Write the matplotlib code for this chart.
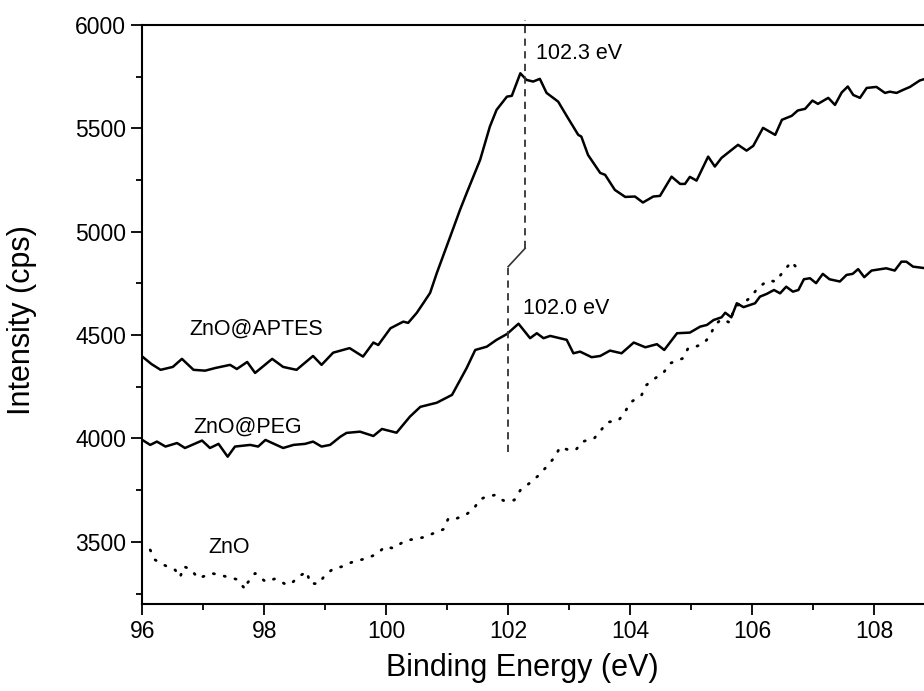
import matplotlib
matplotlib.use('Agg')
import matplotlib.pyplot as plt
from matplotlib.ticker import MultipleLocator

plt.rcParams['font.family'] = ['Liberation Sans', 'DejaVu Sans']

# ZnO@APTES trace
aptes_x = [96.0, 96.15, 96.3, 96.5, 96.65, 96.84, 97.03, 97.2, 97.44, 97.55, 97.72, 97.85,
           98.13, 98.31, 98.53, 98.8, 98.94, 99.13, 99.4, 99.62, 99.79, 99.87, 100.07, 100.28,
           100.36, 100.5, 100.61, 100.72, 100.83, 101.05, 101.21, 101.32, 101.54, 101.7, 101.81,
           101.98, 102.06, 102.2, 102.3, 102.41, 102.52, 102.63, 102.82, 102.98, 103.15, 103.2,
           103.31, 103.51, 103.59, 103.75, 103.92, 104.08, 104.21, 104.38, 104.49, 104.68, 104.82,
           104.9, 104.98, 105.09, 105.28, 105.39, 105.5, 105.77, 105.91, 106.02, 106.18, 106.38,
           106.49, 106.65, 106.75, 106.87, 106.99, 107.08, 107.25, 107.36, 107.47, 107.57, 107.66,
           107.77, 107.88, 108.04, 108.18, 108.26, 108.37, 108.48, 108.59, 108.75, 108.85]
aptes_y = [4396, 4360, 4332, 4346, 4385, 4332, 4328, 4341, 4356, 4336, 4370, 4317,
           4385, 4346, 4332, 4399, 4356, 4415, 4437, 4396, 4464, 4452, 4533, 4565,
           4559, 4607, 4655, 4704, 4800, 4976, 5105, 5187, 5347, 5508, 5589,
           5653, 5657, 5766, 5734, 5726, 5739, 5671, 5629, 5550, 5468, 5460,
           5371, 5284, 5275, 5202, 5168, 5170, 5141, 5170, 5173, 5266, 5231,
           5231, 5265, 5247, 5363, 5315, 5357, 5420, 5392, 5415, 5502, 5468,
           5541, 5560, 5586, 5594, 5634, 5618, 5647, 5613, 5673, 5702, 5661,
           5647, 5695, 5700, 5671, 5677, 5671, 5686, 5700, 5731, 5740]

# ZnO@PEG trace
peg_x = [96.0, 96.13, 96.24, 96.38, 96.57, 96.7, 96.98, 97.11, 97.25, 97.4, 97.52, 97.77,
         97.9, 98.02, 98.31, 98.48, 98.67, 98.8, 98.94, 99.08, 99.25, 99.35, 99.57, 99.79,
         99.93, 100.17, 100.39, 100.56, 100.83, 101.08, 101.32, 101.46, 101.65, 101.81, 101.98,
         102.17, 102.36, 102.47, 102.58, 102.69, 102.96, 103.07, 103.18, 103.37, 103.51, 103.67,
         103.86, 104.06, 104.25, 104.44, 104.56, 104.77, 104.98, 105.15, 105.26, 105.37, 105.5,
         105.56, 105.66, 105.75, 105.86, 106.05, 106.13, 106.24, 106.36, 106.46, 106.56, 106.67,
         106.76, 106.85, 106.95, 107.05, 107.16, 107.27, 107.44, 107.55, 107.65, 107.74, 107.84,
         107.96, 108.2, 108.34, 108.45, 108.53, 108.64, 108.85]
peg_y = [3993, 3969, 3985, 3961, 3978, 3954, 3990, 3954, 3974, 3912, 3961, 3969,
         3961, 3993, 3954, 3969, 3974, 3985, 3961, 3969, 4009, 4027, 4033, 4012,
         4046, 4028, 4106, 4153, 4173, 4211, 4341, 4428, 4444, 4477, 4505,
         4555, 4485, 4509, 4485, 4496, 4477, 4412, 4420, 4393, 4399, 4425,
         4412, 4464, 4441, 4456, 4428, 4509, 4512, 4541, 4549, 4573, 4586,
         4608, 4586, 4654, 4635, 4654, 4686, 4699, 4718, 4702, 4734, 4710,
         4718, 4770, 4775, 4751, 4796, 4770, 4759, 4791, 4796, 4819, 4780,
         4812, 4823, 4812, 4855, 4855, 4831, 4823]

# bare ZnO trace (dotted)
zno_x = [96.13, 96.21, 96.35, 96.54, 96.62, 96.68, 96.79, 96.92, 97.14, 97.28, 97.41, 97.55,
         97.69, 97.72, 97.85, 98.02, 98.18, 98.37, 98.45, 98.56, 98.7, 98.75, 98.89, 99.0,
         99.14, 99.27, 99.38, 99.52, 99.68, 99.85, 99.98, 100.12, 100.31, 100.45, 100.61, 100.78,
         100.94, 101.02, 101.16, 101.3, 101.43, 101.54, 101.65, 101.79, 101.92, 102.1, 102.2,
         102.36, 102.51, 102.64, 102.77, 102.85, 102.99, 103.11, 103.22, 103.41, 103.63, 103.81,
         103.92, 104.0, 104.19, 104.27, 104.41, 104.55, 104.66, 104.87, 104.95, 105.04, 105.2,
         105.31, 105.39, 105.5, 105.64, 105.69, 105.8, 105.91, 105.99, 106.1, 106.27, 106.39,
         106.51, 106.65, 106.75]
zno_y = [3461, 3413, 3389, 3364, 3329, 3381, 3368, 3324, 3348, 3340, 3329, 3319,
         3271, 3300, 3348, 3308, 3322, 3292, 3300, 3332, 3356, 3300, 3297, 3340,
         3372, 3380, 3396, 3409, 3420, 3442, 3477, 3469, 3506, 3513, 3522, 3542,
         3561, 3614, 3614, 3630, 3658, 3706, 3719, 3727, 3700, 3702, 3750,
         3786, 3824, 3867, 3912, 3958, 3945, 3945, 3985, 4000, 4079, 4087,
         4130, 4173, 4211, 4259, 4291, 4319, 4364, 4388, 4436, 4441, 4457,
         4496, 4549, 4577, 4560, 4613, 4657, 4667, 4686, 4731, 4764, 4759,
         4807, 4855, 4818]

peak_peg = 102.0
peak_aptes = 102.28

fig = plt.figure(figsize=(9.24, 6.91), dpi=100)
ax = fig.add_axes([0.154, 0.126, 0.846, 0.838])

ax.plot(aptes_x, aptes_y, color='black', lw=1.8)
ax.plot(peg_x, peg_y, color='black', lw=1.8)
ax.plot(zno_x, zno_y, color='black', lw=2.0, linestyle=(0, (0.4, 3.6)), dash_capstyle='round')

# peak markers
ax.plot([peak_peg, peak_peg], [3937, 4831], color='#333333', lw=1.3, linestyle=(0, (4, 3)))
ax.plot([peak_peg, peak_aptes], [4831, 4920], color='#333333', lw=1.2)
ax.plot([peak_aptes, peak_aptes], [4920, 6025], color='#333333', lw=1.3,
        linestyle=(0, (4, 3)), clip_on=False)

ax.text(102.46, 5862, '102.3 eV', fontsize=15.5, va='center')
ax.text(102.25, 4627, '102.0 eV', fontsize=15.5, va='center')
ax.text(96.77, 4530, 'ZnO@APTES', fontsize=15.5, va='center')
ax.text(96.84, 4056, 'ZnO@PEG', fontsize=15.5, va='center')
ax.text(97.08, 3471, 'ZnO', fontsize=15.5, va='center')

ax.set_xlim(96, 108.82)
ax.set_ylim(3200, 6000)
ax.xaxis.set_major_locator(MultipleLocator(2))
ax.xaxis.set_minor_locator(MultipleLocator(1))
ax.yaxis.set_major_locator(MultipleLocator(500))
ax.yaxis.set_minor_locator(MultipleLocator(250))
ax.tick_params(which='major', direction='out', length=8, width=1.3, labelsize=16.5)
ax.tick_params(which='minor', direction='out', length=4, width=1.3)
ax.spines['right'].set_visible(False)
for s in ['left', 'bottom', 'top']:
    ax.spines[s].set_linewidth(1.5)

ax.set_xlabel('Binding Energy (eV)', fontsize=22)
ax.set_ylabel('Intensity (cps)', fontsize=22)
ax.xaxis.set_label_coords(0.486, -0.085)
ax.yaxis.set_label_coords(-0.135, 0.49)

fig.savefig('out.png', dpi=100)
